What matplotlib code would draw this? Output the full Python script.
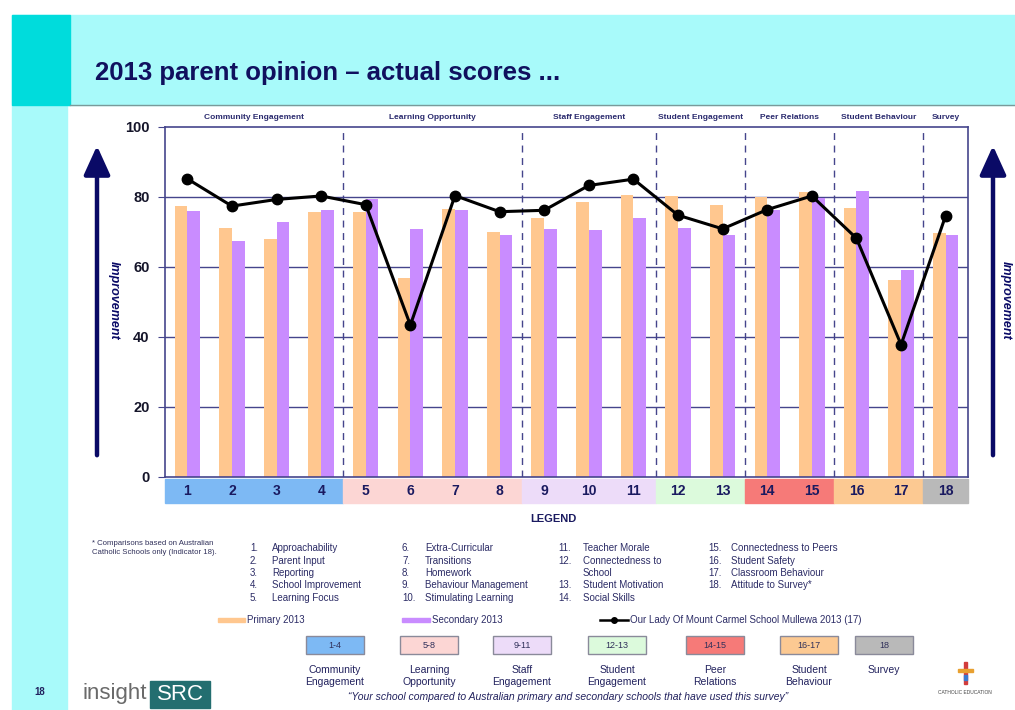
import matplotlib
matplotlib.use("Agg")
import matplotlib.pyplot as plt
from matplotlib.patches import Rectangle, FancyArrowPatch
from matplotlib.lines import Line2D
import matplotlib.transforms as mtransforms

plt.rcParams['font.family'] = ['Liberation Sans', 'DejaVu Sans']

# ---- data ----
indicators = [str(i) for i in range(1, 19)]
primary_2013 = [77.4, 71.1, 68.0, 75.7, 75.6, 56.8, 76.7, 69.9, 74.0, 78.6, 80.7, 80.4, 77.7, 80.0, 81.3, 77.0, 56.2, 69.6]
secondary_2013 = [75.9, 67.4, 72.9, 76.4, 79.4, 70.8, 76.4, 69.1, 70.8, 70.5, 74.0, 71.1, 69.1, 76.4, 79.7, 81.8, 59.2, 69.2]
school_2013 = [85.2, 77.4, 79.3, 80.3, 77.8, 43.4, 80.4, 75.8, 76.2, 83.3, 85.1, 74.8, 70.9, 76.4, 80.3, 68.2, 37.8, 74.7]

group_names = ['Community Engagement', 'Learning Opportunity', 'Staff Engagement', 'Student Engagement',
               'Peer Relations', 'Student Behaviour', 'Survey']
group_first = [1, 5, 9, 12, 14, 16, 18]
group_last = [4, 8, 11, 13, 15, 17, 18]
group_ranges = ['1-4', '5-8', '9-11', '12-13', '14-15', '16-17', '18']
group_colors = ['#7db9f4', '#fcd6d4', '#eddcf9', '#dcfadc', '#f67a78', '#fcc992', '#b9b9b9']
group_box_labels = ['Community\nEngagement', 'Learning\nOpportunity', 'Staff\nEngagement', 'Student\nEngagement',
                    'Peer\nRelations', 'Student\nBehaviour', 'Survey']

indicator_names = ['Approachability', 'Parent Input', 'Reporting', 'School Improvement', 'Learning Focus',
                   'Extra-Curricular', 'Transitions', 'Homework', 'Behaviour Management', 'Stimulating Learning',
                   'Teacher Morale', 'Connectedness to\nSchool', 'Student Motivation', 'Social Skills',
                   'Connectedness to Peers', 'Student Safety', 'Classroom Behaviour', 'Attitude to Survey*']

W, H = 1015, 710
NAVY = '#10105e'
GRID = '#45458c'
PRIM = '#ffc78f'
SEC = '#c98cff'


def fx(x):
    return x / W


def fy(y):
    return 1 - y / H


fig = plt.figure(figsize=(W / 100, H / 100), dpi=100)
fig.patch.set_facecolor('white')

# background decoration
fig.patches.append(Rectangle((fx(12), 0), fx(55), fy(105), transform=fig.transFigure,
                             color='#a8fafa', zorder=0))
fig.patches.append(Rectangle((fx(12), fy(105)), fx(W - 12), fy(15) - fy(105), transform=fig.transFigure,
                             color='#a8fafa', zorder=0))
fig.patches.append(Rectangle((fx(12), fy(105)), fx(58), fy(15) - fy(105), transform=fig.transFigure,
                             color='#00dcdc', zorder=0))
fig.lines.append(Line2D([fx(70), 1], [fy(105), fy(105)], transform=fig.transFigure, color='#7a9a9a', lw=1))

fig.text(fx(95), fy(73), '2013 parent opinion \u2013 actual scores ...', fontsize=18.5, fontweight='bold',
         color=NAVY, va='center', ha='left')

# ---- main chart ----
ax = fig.add_axes([fx(165), fy(477), fx(968 - 165), fy(127) - fy(477)])
x = list(range(len(indicators)))
bw = 0.285
ax.bar([i - bw / 2 for i in x], primary_2013, width=bw, color=PRIM, zorder=2)
ax.bar([i + bw / 2 for i in x], secondary_2013, width=bw, color=SEC, zorder=2)
ax.plot(x, school_2013, color='black', lw=2.2, marker='o', markersize=7.5, zorder=4)

ax.set_xlim(-0.5, 17.5)
ax.set_ylim(0, 100)
ax.set_yticks([0, 20, 40, 60, 80, 100])
ax.set_yticklabels(['0', '20', '40', '60', '80', '100'], fontweight='bold', fontsize=10.5, color='#15152a')
ax.tick_params(axis='y', length=5, color=GRID, pad=6)
ax.set_xticks([])
for s in ax.spines.values():
    s.set_color(GRID)
    s.set_linewidth(1.2)
for g in [20, 40, 60, 80]:
    ax.axhline(g, color=GRID, lw=1, zorder=1)

trans = mtransforms.blended_transform_factory(ax.transData, ax.transAxes)
for k, name in enumerate(group_names):
    a, b = group_first[k] - 1, group_last[k] - 1
    if k > 0:
        ax.axvline(a - 0.5, color=GRID, lw=1, ls=(0, (5, 4)), zorder=1)
    ax.text((a + b) / 2, 1.018, name, transform=trans, ha='center', va='bottom', fontsize=6,
            fontweight='bold', color='#2a2a6e')
    ax.add_patch(Rectangle((a - 0.5, -0.073), b - a + 1, 0.067, transform=trans, color=group_colors[k],
                           clip_on=False, zorder=1))
for i, lab in enumerate(indicators):
    ax.text(i, -0.04, lab, transform=trans, ha='center', va='center', fontsize=10, fontweight='bold',
            color='#1a1a60')

# improvement arrows
for ax_x, tx in [(97, 114), (993, 1006)]:
    fig.patches.append(FancyArrowPatch((fx(ax_x), fy(458)), (fx(ax_x), fy(143)), transform=fig.transFigure,
                                       arrowstyle='-|>,head_length=11,head_width=5', mutation_scale=1.6,
                                       color='#0a0a66', lw=3.2))
    fig.text(fx(tx), fy(300), 'Improvement', rotation=-90, ha='center', va='center', fontsize=9,
             fontweight='bold', fontstyle='italic', color='#0a0a66')

# ---- legend block ----
fig.text(fx(553), fy(519), 'LEGEND', ha='center', va='center', fontsize=8, fontweight='bold', color='#1a1a60')
fig.text(fx(92), fy(548), '* Comparisons based on Australian\nCatholic Schools only (Indicator 18).',
         ha='left', va='center', fontsize=5.6, color='#30305a', linespacing=1.5)

TXT = '#2c2c66'
col_num_x = [250, 402, 558, 708]
col_txt_x = [272, 425, 583, 731]
rows_y = [548, 560.5, 573, 585.5, 598]
columns = [[0, 1, 2, 3, 4], [5, 6, 7, 8, 9], [10, 11, 12, 13], [14, 15, 16, 17]]
for c, items in enumerate(columns):
    r = 0
    for idx in items:
        y = rows_y[r]
        fig.text(fx(col_num_x[c]), fy(y), f'{idx + 1}.', ha='left', va='center', fontsize=7, color=TXT)
        lines = indicator_names[idx].split('\n')
        for ln in lines:
            fig.text(fx(col_txt_x[c]), fy(rows_y[r]), ln, ha='left', va='center', fontsize=7, color=TXT)
            r += 1

# series legend
fig.patches.append(Rectangle((fx(218), fy(622)), fx(27), fy(618) - fy(622), transform=fig.transFigure,
                             color=PRIM))
fig.text(fx(247), fy(620), 'Primary 2013', ha='left', va='center', fontsize=7, color=TXT)
fig.patches.append(Rectangle((fx(402), fy(622)), fx(28), fy(618) - fy(622), transform=fig.transFigure,
                             color=SEC))
fig.text(fx(432), fy(620), 'Secondary 2013', ha='left', va='center', fontsize=7, color=TXT)
fig.lines.append(Line2D([fx(600), fx(628)], [fy(620), fy(620)], transform=fig.transFigure, color='black',
                        lw=1.8))
fig.lines.append(Line2D([fx(614)], [fy(620)], transform=fig.transFigure, color='black', marker='o',
                        markersize=4))
fig.text(fx(630), fy(620), 'Our Lady Of Mount Carmel School Mullewa 2013 (17)', ha='left', va='center',
         fontsize=7, color=TXT)

# group boxes
box_cx = [335, 429, 522, 617, 715, 809, 884]
for k, cx in enumerate(box_cx):
    fig.patches.append(Rectangle((fx(cx - 29), fy(654)), fx(58), fy(636) - fy(654), transform=fig.transFigure,
                                 facecolor=group_colors[k], edgecolor='#8a8a9a', lw=1))
    fig.text(fx(cx), fy(645), group_ranges[k], ha='center', va='center', fontsize=6.5, color='#30305a')
    fig.text(fx(cx), fy(665), group_box_labels[k], ha='center', va='top', fontsize=7.5, color='#22225e',
             linespacing=1.2)

fig.text(fx(568), fy(697), '\u201cYour school compared to Australian primary and secondary schools that have used this survey\u201d',
         ha='center', va='center', fontsize=7.5, fontstyle='italic', color='#22225e')

# footer
fig.text(fx(40), fy(692), '18', ha='center', va='center', fontsize=7, fontweight='bold', color='#22225e')
fig.text(fx(82), fy(694), 'insight', ha='left', va='center', fontsize=16, color='#6a6a6a')
fig.patches.append(Rectangle((fx(150), fy(708)), fx(60), fy(681) - fy(708), transform=fig.transFigure,
                             color='#236e70'))
fig.text(fx(180), fy(694), 'SRC', ha='center', va='center', fontsize=16, color='white')

# small logo on the right
fig.patches.append(Rectangle((fx(964), fy(684)), fx(3), fy(662) - fy(684), transform=fig.transFigure,
                             color='#d23c3c'))
fig.patches.append(Rectangle((fx(958), fy(672)), fx(15), fy(669) - fy(672), transform=fig.transFigure,
                             color='#e8a030'))
fig.patches.append(Rectangle((fx(964), fy(680)), fx(3), fy(675) - fy(680), transform=fig.transFigure,
                             color='#3a7ad0'))
fig.text(fx(965), fy(692), 'CATHOLIC EDUCATION', ha='center', va='center', fontsize=3.5, color='#444444')

fig.savefig('out.png', dpi=100)
